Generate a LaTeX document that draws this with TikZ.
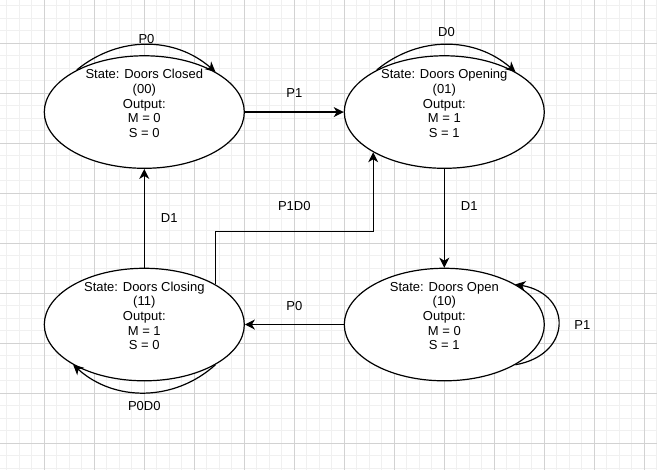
\documentclass[tikz,border=0pt]{standalone}
\usepackage{fontspec}
\setmainfont{Liberation Sans}
\usetikzlibrary{arrows.meta,positioning,shapes.geometric}

\definecolor{gridmajor}{RGB}{210,210,210}
\definecolor{gridminor}{RGB}{240,240,240}

\begin{document}
\begin{tikzpicture}[->,>={Stealth[length=7.5pt,width=7.5pt,inset=2.25pt]},
                    line width=0.9pt,node distance=225pt,
                    font=\fontsize{9.75}{11}\selectfont,
                    state/.style={ellipse,draw,fill=white,minimum width=150pt,
                                  minimum height=84.4pt,inner sep=0pt},
                    statetext/.style={align=center,inner sep=0pt},
                    edgelabel/.style={inner sep=0pt}]
  \useasboundingbox[fill=white] (-108.225pt,-268.4625pt) rectangle (384.525pt,84.0375pt);

  % background grid
  \begin{scope}[shift={(-75pt,51.5625pt)}]
    \draw[-,gridminor,line width=0.75pt,step=9.375pt] (-33.225pt,-320.025pt) grid (459.525pt,32.475pt);
    \draw[-,gridmajor,line width=0.75pt,step=37.5pt] (-33.225pt,-320.025pt) grid (459.525pt,32.475pt);
  \end{scope}

  \node[state] (S00)                                       {};
  \node[state] (S01) [right of=S00]                        {};
  \node[state] (S11) [below of=S00,node distance=159.375pt] {};
  \node[state] (S10) [right of=S11]                        {};

  \node[statetext] (S00txt) at ([yshift=6.5pt]S00.center) {State: Doors Closed\\(00)\\Output:\\M = 0\\S = 0};
  \node[statetext] (S01txt) at ([yshift=6.5pt]S01.center) {State: Doors Opening\\(01)\\Output:\\M = 1\\S = 1};
  \node[statetext] (S11txt) at ([yshift=6.5pt]S11.center) {State: Doors Closing\\(11)\\Output:\\M = 1\\S = 0};
  \node[statetext] (S10txt) at ([yshift=6.5pt]S10.center) {State: Doors Open\\(10)\\Output:\\M = 0\\S = 1};

  \draw (S00) -- node[edgelabel,yshift=14pt] {P1} (S01);
  \draw (S01) -- node[edgelabel,xshift=18.75pt,yshift=9.5pt] {D1} (S10);
  \draw (S10) -- node[edgelabel,yshift=13.9pt] {P0} (S11);
  \draw (S11) -- node[edgelabel,xshift=18.75pt] {D1} (S00);
  \draw (S11.north east) -- ++(0,39.75pt) -| node[edgelabel,pos=0.25,yshift=18.75pt] {P1D0} (S01.south west);

  \draw (S00.148) to[bend left=40] node[edgelabel,yshift=4.4pt] {P0} (S00.north east);
  \draw (S01.148) to[bend left=40] node[edgelabel,yshift=9.75pt] {D0} (S01.north east);
  \draw (S11.south east) to[bend left=42] node[edgelabel,yshift=-9.7pt] {P0D0} (S11.south west);
  \draw (S10.south east) to[out=10,in=-10,looseness=1.85] node[edgelabel,xshift=18pt] {P1} (S10.north east);
\end{tikzpicture}
\end{document}
